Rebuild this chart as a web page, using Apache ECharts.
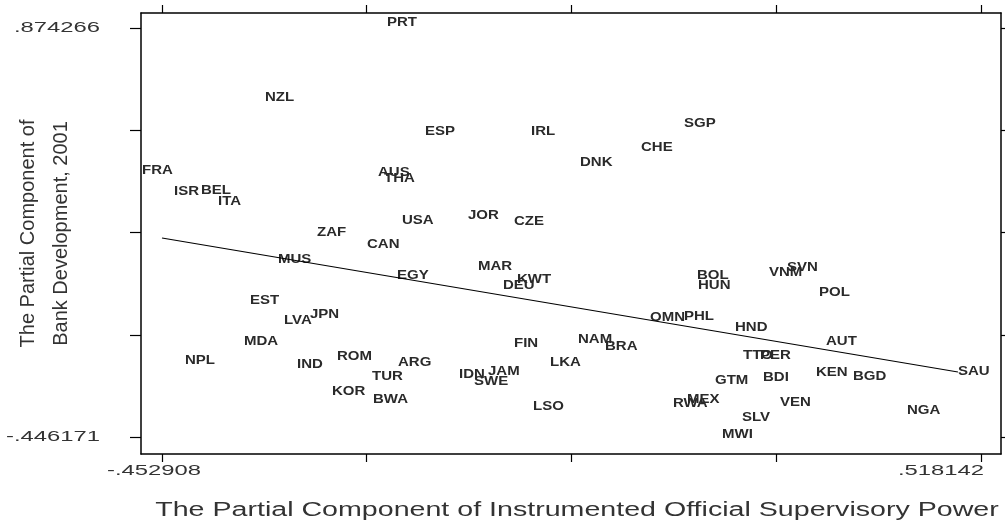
<!DOCTYPE html>
<html>
<head>
<meta charset="utf-8">
<script src="https://cdn.jsdelivr.net/npm/echarts@6/dist/echarts.min.js"></script>
<style>
  html, body { margin: 0; padding: 0; background: #fff; }
  #main { width: 1005px; height: 527px; }
</style>
</head>
<body>
<div id="main"></div>
<script>
// country codes and partial components
const countries = ['PRT','NZL','FRA','ISR','BEL','ITA','AUS','THA','USA','ESP','IRL','DNK','CHE','SGP','JOR','CZE',
  'ZAF','CAN','MUS','EGY','EST','LVA','JPN','MDA','NPL','IND','ROM','ARG','TUR','KOR','BWA',
  'MAR','KWT','DEU','FIN','NAM','BRA','LKA','IDN','JAM','SWE','LSO','OMN','PHL',
  'BOL','HUN','VNM','SVN','POL','HND','AUT','TTO','PER','KEN','BGD','GTM','BDI','MEX','RWA','VEN','SLV','MWI','NGA','SAU'];
const xVals = [-0.18615,-0.33079,-0.47662,-0.43868,-0.40667,-0.38651,-0.19682,-0.18970,-0.16836,-0.14110,-0.01542,0.04267,0.11499,0.16598,-0.09011,-0.03558,
  -0.26914,-0.20986,-0.31538,-0.17429,-0.34858,-0.30827,-0.27744,-0.35569,-0.42564,-0.29285,-0.24543,-0.17311,-0.20393,-0.25136,-0.20275,
  -0.07826,-0.03202,-0.04862,-0.03558,0.04030,0.07231,0.00711,-0.10079,-0.06640,-0.08300,-0.01305,0.12567,0.16598,
  0.18139,0.18258,0.26675,0.28809,0.32603,0.22644,0.33433,0.23593,0.25608,0.32247,0.36634,0.20273,0.25964,0.16953,0.15293,0.27979,0.23474,0.21103,0.43036,0.49083];
const yVals = [0.89041,0.64828,0.41261,0.34481,0.34804,0.31252,0.40615,0.38678,0.25119,0.53851,0.53851,0.43843,0.48686,0.56434,0.26733,0.24796,
  0.21244,0.17370,0.12528,0.07362,-0.00709,-0.07166,-0.05229,-0.13945,-0.20079,-0.21371,-0.18788,-0.20725,-0.25245,-0.30087,-0.32670,
  0.10268,0.06071,0.04134,-0.14591,-0.13300,-0.15559,-0.20725,-0.24599,-0.23630,-0.26859,-0.34930,-0.06197,-0.05874,
  0.07362,0.04134,0.08331,0.09945,0.01874,-0.09425,-0.13945,-0.18465,-0.18465,-0.23953,-0.25245,-0.26536,-0.25567,-0.32670,-0.33961,-0.33638,-0.38481,-0.43969,-0.36221,-0.23630];

// fitted line end points
const fitX = [-0.452908, 0.49083];
const fitY = [0.196302, -0.236304];

const xTicks = [-0.452908, -0.210146, 0.032617, 0.275379, 0.518142];
const yTicks = [0.874266, 0.544157, 0.214048, -0.116062, -0.446171];
const xTickLabels = [-0.452908, 0.518142];
const yTickLabels = [0.874266, -0.446171];

const XMIN = -0.477806, XMAX = 0.541854;
const YMIN = -0.501054, YMAX = 0.922692;

const FONT = 'Liberation Sans, Arial, sans-serif';
const INK = '#2a2a2a';

function stataFmt(v) {
  return v.toFixed(6).replace('0.', '.');
}

const chart = echarts.init(document.getElementById('main'));

const axisLine = { show: true, onZero: false, lineStyle: { color: '#000', width: 1.5 } };
const tickStyle = { color: '#000', width: 1.2 };

chart.setOption({
  animation: false,
  backgroundColor: '#fff',
  grid: { left: 141, right: 4, top: 13, bottom: 73 },
  xAxis: [
    { type: 'value', position: 'bottom', min: XMIN, max: XMAX,
      axisLine: axisLine, splitLine: { show: false },
      axisTick: { customValues: xTicks, length: 8, lineStyle: tickStyle },
      axisLabel: { show: false } },
    { type: 'value', position: 'top', min: XMIN, max: XMAX,
      axisLine: axisLine, splitLine: { show: false },
      axisTick: { customValues: xTicks, length: 8, lineStyle: tickStyle },
      axisLabel: { show: false } }
  ],
  yAxis: [
    { type: 'value', position: 'left', min: YMIN, max: YMAX,
      axisLine: axisLine, splitLine: { show: false },
      axisTick: { customValues: yTicks, length: 11, lineStyle: tickStyle },
      axisLabel: { show: false },
      name: 'The Partial Component of\nBank Development, 2001',
      nameLocation: 'middle', nameRotate: 90, nameGap: 63,
      nameTextStyle: { fontFamily: FONT, fontSize: 20, lineHeight: 33, color: '#333' } },
    { type: 'value', position: 'right', min: YMIN, max: YMAX,
      axisLine: axisLine, splitLine: { show: false },
      axisTick: { customValues: yTicks, length: 6, lineStyle: tickStyle },
      axisLabel: { show: false } }
  ],
  graphic: [{
    type: 'text', x: 577, y: 510, scaleX: 1.43, silent: true,
    style: { text: 'The Partial Component of Instrumented Official Supervisory Power',
      fontFamily: FONT, fontSize: 20, fill: '#333', align: 'center', verticalAlign: 'middle' }
  }],
  series: [
    {
      type: 'line', name: 'fit', silent: true,
      data: fitX.map((x, i) => [x, fitY[i]]),
      showSymbol: false, symbol: 'none',
      lineStyle: { color: '#000', width: 1.2 }
    },
    {
      type: 'custom', name: 'countries', silent: true,
      data: countries.map((c, i) => [xVals[i], yVals[i]]),
      renderItem: function (params, api) {
        const p = api.coord([api.value(0), api.value(1)]);
        return {
          type: 'text', x: p[0], y: p[1], scaleX: 1.25,
          style: { text: countries[params.dataIndex], fontFamily: FONT, fontSize: 12,
            fontWeight: 'bold', fill: INK, align: 'left', verticalAlign: 'middle' }
        };
      }
    },
    {
      type: 'custom', name: 'xticklabels', silent: true,
      data: xTickLabels.map(v => [v, YMIN]),
      renderItem: function (params, api) {
        const p = api.coord([api.value(0), api.value(1)]);
        const last = params.dataIndex === xTickLabels.length - 1;
        return {
          type: 'text', x: last ? p[0] + 3 : p[0] - 8, y: p[1] + 17, scaleX: 1.7,
          style: { text: stataFmt(xTickLabels[params.dataIndex]), fontFamily: FONT, fontSize: 14,
            fill: '#333', align: last ? 'right' : 'center', verticalAlign: 'middle' }
        };
      }
    },
    {
      type: 'custom', name: 'yticklabels', silent: true,
      data: yTickLabels.map(v => [XMIN, v]),
      renderItem: function (params, api) {
        const p = api.coord([api.value(0), api.value(1)]);
        return {
          type: 'text', x: p[0] - 41, y: p[1], scaleX: 1.7,
          style: { text: stataFmt(yTickLabels[params.dataIndex]), fontFamily: FONT, fontSize: 14,
            fill: '#333', align: 'right', verticalAlign: 'middle' }
        };
      }
    }
  ]
});
</script>
</body>
</html>
